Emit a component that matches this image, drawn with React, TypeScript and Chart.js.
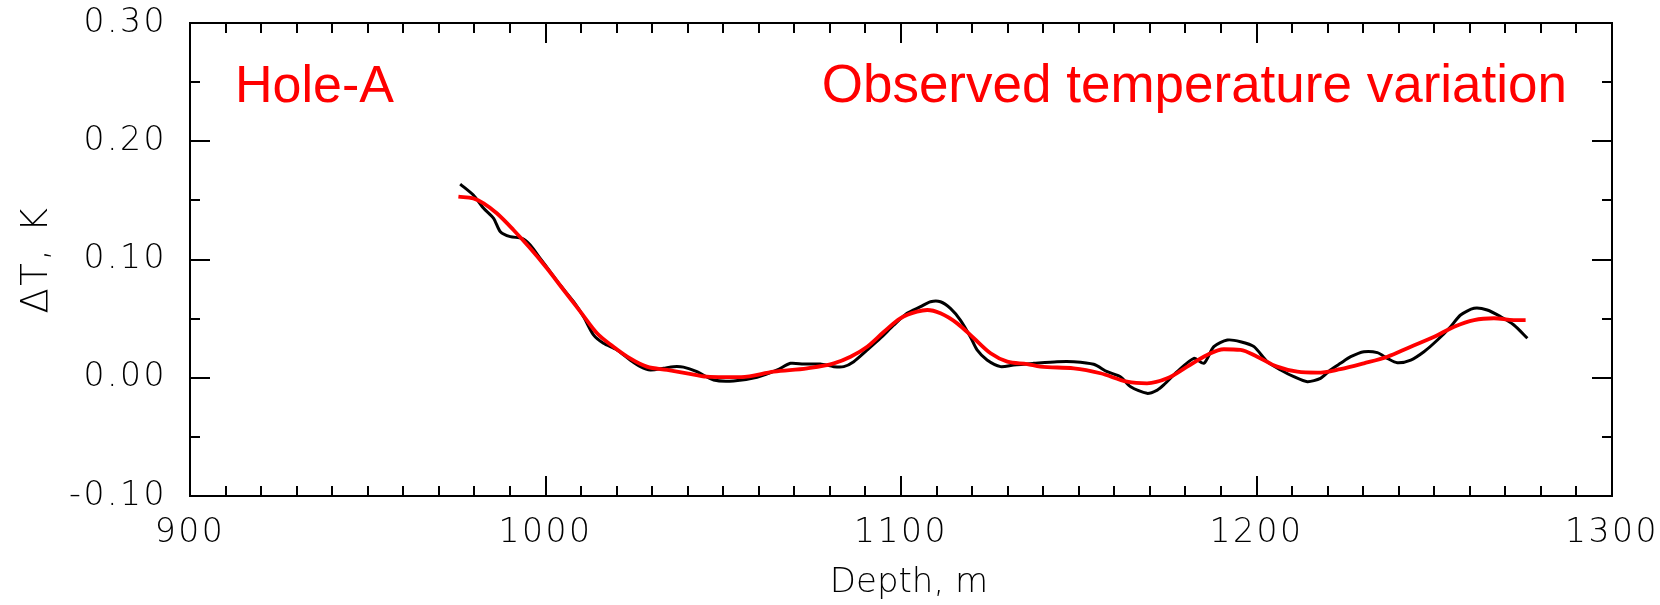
import React, { useEffect, useRef } from 'react';
import { Chart, registerables } from 'chart.js';

Chart.register(...registerables);

// Observed (black, noisy) temperature variation
const observedDepth = [
  976.0, 979.7, 982.6, 985.4, 987.3, 990.1, 993.4, 995.7, 998.5, 1001.3,
  1004.1, 1007.9, 1010.7, 1013.5, 1016.3, 1020.1, 1023.8, 1026.7, 1029.5, 1033.2,
  1036.0, 1038.8, 1042.6, 1047.3, 1052.9, 1059.5, 1065.2, 1068.9, 1072.6, 1077.3,
  1081.1, 1083.9, 1086.7, 1090.5, 1094.2, 1098.0, 1101.7, 1105.5, 1108.3, 1111.1,
  1113.9, 1116.7, 1119.5, 1121.4, 1124.2, 1128.0, 1131.7, 1137.4, 1143.9, 1148.6,
  1154.2, 1158.0, 1161.7, 1164.6, 1169.2, 1172.1, 1173.9, 1177.7, 1182.4, 1185.2,
  1188.0, 1191.8, 1195.5, 1199.3, 1203.0, 1206.8, 1210.5, 1214.3, 1218.0, 1220.8,
  1223.6, 1226.5, 1230.2, 1234.0, 1236.8, 1239.6, 1243.4, 1247.1, 1250.9, 1254.6,
  1257.4, 1261.2, 1264.9, 1268.7, 1272.4, 1276.2,
];
const observedDT = [
  0.1638, 0.1545, 0.1433, 0.1348, 0.1235, 0.1193, 0.1179, 0.1123, 0.101, 0.0897,
  0.0784, 0.0643, 0.0516, 0.0362, 0.0291, 0.0235, 0.015, 0.0094, 0.0066, 0.008,
  0.0094, 0.009, 0.0051, -0.0019, -0.0027, 0.0004, 0.0066, 0.0122, 0.0116, 0.0116,
  0.0094, 0.0094, 0.0136, 0.0235, 0.0334, 0.0446, 0.0545, 0.0601, 0.0643, 0.0643,
  0.0587, 0.0488, 0.0347, 0.0235, 0.015, 0.0094, 0.0108, 0.0122, 0.0136, 0.0136,
  0.0114, 0.0051, 0.0009, -0.0076, -0.0132, -0.0104, -0.0061, 0.0051, 0.0164, 0.0122,
  0.0263, 0.0319, 0.0305, 0.0263, 0.0136, 0.0066, 0.0009, -0.0033, -0.0005, 0.0066,
  0.0122, 0.0178, 0.022, 0.0212, 0.0164, 0.0127, 0.015, 0.022, 0.0319, 0.0432,
  0.0531, 0.0587, 0.0573, 0.0516, 0.0446, 0.0334,
];

// Smooth (red) curve
const fitDepth = [
  975.5, 979.7, 982.6, 986.3, 991.0, 995.7, 1000.4, 1005.1, 1009.8, 1014.5,
  1019.1, 1023.8, 1028.5, 1034.2, 1039.8, 1045.4, 1050.0, 1055.0, 1064.2, 1073.6,
  1081.1, 1085.8, 1090.5, 1095.2, 1099.8, 1104.5, 1107.4, 1111.1, 1115.8, 1120.5,
  1125.2, 1129.9, 1135.5, 1139.2, 1148.6, 1156.1, 1163.6, 1169.2, 1174.9, 1180.5,
  1186.1, 1190.8, 1195.5, 1200.2, 1205.8, 1211.5, 1217.1, 1223.6, 1230.2, 1236.8,
  1243.4, 1250.0, 1255.6, 1261.2, 1266.8, 1272.4, 1275.7,
];
const fitDT = [
  0.1531, 0.1517, 0.1475, 0.1391, 0.125, 0.1095, 0.0926, 0.0742, 0.0559, 0.0376,
  0.0263, 0.0164, 0.0094, 0.0066, 0.0038, 0.0009, 0.0005, 0.0005, 0.0051, 0.008,
  0.0122, 0.0178, 0.0263, 0.0389, 0.0503, 0.0559, 0.0573, 0.0545, 0.046, 0.0334,
  0.0207, 0.0136, 0.0116, 0.0094, 0.008, 0.0038, -0.0033, -0.0047, -0.0005, 0.0094,
  0.0193, 0.0241, 0.0235, 0.0178, 0.0094, 0.0051, 0.0043, 0.0073, 0.0122, 0.0178,
  0.0263, 0.0347, 0.0432, 0.0488, 0.0503, 0.0488, 0.0488,
];

const xMin = 900;
const xMax = 1300;
const xStep = 100;
const yMin = -0.1;
const yMax = 0.3;
const yStep = 0.1;

const holeLabel = 'Hole-A';
const curveLabel = 'Observed temperature variation';
const xTitle = 'Depth, m';
const yTitle = 'ΔT, K';

const tickFont = { family: '"DejaVu Sans"', size: 33, weight: '200' as any };

const frameTicksPlugin = {
  id: 'frameTicks',
  beforeDraw(chart: any) {
    // wider glyph spacing, like the reference's axis lettering
    (chart.ctx as any).letterSpacing = '2.5px';
  },
  afterDatasetsDraw(chart: any) {
    const { ctx, chartArea: a, scales } = chart;
    const x = scales.x;
    const y = scales.y;
    ctx.save();
    ctx.strokeStyle = '#000';
    ctx.lineWidth = 2;
    ctx.beginPath();
    for (let i = 0; i <= 40; i++) {
      const d = xMin + i * 10;
      const px = Math.round(x.getPixelForValue(d));
      const len = i % 10 === 0 ? 20 : 10;
      ctx.moveTo(px, a.bottom);
      ctx.lineTo(px, a.bottom - len);
      ctx.moveTo(px, a.top);
      ctx.lineTo(px, a.top + len);
    }
    for (let i = -2; i <= 6; i++) {
      const v = i * 0.05;
      const py = Math.round(y.getPixelForValue(v));
      const len = i % 2 === 0 ? 20 : 10;
      ctx.moveTo(a.left, py);
      ctx.lineTo(a.left + len, py);
      ctx.moveTo(a.right, py);
      ctx.lineTo(a.right - len, py);
    }
    ctx.stroke();
    ctx.strokeRect(a.left, a.top, a.right - a.left, a.bottom - a.top);
    ctx.restore();
  },
  afterDraw(chart: any) {
    const { ctx, chartArea: a } = chart;
    ctx.save();
    (ctx as any).letterSpacing = '0px';
    // x-axis title
    ctx.fillStyle = '#000';
    ctx.textAlign = 'center';
    ctx.textBaseline = 'middle';
    ctx.font = '200 34px "DejaVu Sans"';
    ctx.fillText(xTitle, (a.left + a.right) / 2 + 8, 583);
    // annotations
    ctx.fillStyle = '#ff0000';
    ctx.textBaseline = 'alphabetic';
    ctx.textAlign = 'left';
    ctx.font = '52px "Liberation Sans", Arial, sans-serif';
    ctx.fillText(holeLabel, a.left + 45, a.top + 79);
    ctx.textAlign = 'right';
    ctx.font = '53px "Liberation Sans", Arial, sans-serif';
    ctx.fillText(curveLabel, a.right - 45, a.top + 79);
    ctx.restore();
  },
};

export default function App() {
  const ref = useRef<HTMLCanvasElement | null>(null);

  useEffect(() => {
    if (!ref.current) return;
    const chart = new Chart(ref.current, {
      type: 'line',
      data: {
        datasets: [
          {
            label: 'Smoothed',
            data: fitDepth.map((d, i) => ({ x: d, y: fitDT[i] })),
            borderColor: '#ff0000',
            borderWidth: 3.8,
            pointRadius: 0,
            cubicInterpolationMode: 'monotone',
            fill: false,
          },
          {
            label: 'Observed',
            data: observedDepth.map((d, i) => ({ x: d, y: observedDT[i] })),
            borderColor: '#000000',
            borderWidth: 3,
            pointRadius: 0,
            tension: 0.25,
            fill: false,
          },
        ],
      },
      options: {
        animation: false,
        responsive: false,
        layout: { padding: { top: 23, right: 48, left: 0, bottom: 0 } },
        plugins: {
          legend: { display: false },
          tooltip: { enabled: false },
        },
        scales: {
          x: {
            type: 'linear',
            min: xMin,
            max: xMax,
            grid: { display: false, drawTicks: false },
            border: { display: false },
            ticks: {
              stepSize: xStep,
              font: tickFont,
              color: '#000',
              padding: 18,
              maxRotation: 0,
              callback: (v: any) => String(v),
            },
            title: { display: false, text: xTitle },
            afterFit: (s: any) => {
              s.height = 109;
              s.paddingLeft = 0;
              s.paddingRight = 0;
            },
          },
          y: {
            type: 'linear',
            min: yMin,
            max: yMax,
            grid: { display: false, drawTicks: false },
            border: { display: false },
            ticks: {
              stepSize: yStep,
              font: tickFont,
              color: '#000',
              padding: 23,
              callback: (v: any) => Number(v).toFixed(2),
            },
            title: {
              display: true,
              text: yTitle,
              font: { ...tickFont, size: 37 },
              color: '#000',
              padding: { top: 15, bottom: 0 },
            },
            afterFit: (s: any) => {
              s.width = 190;
              s.paddingTop = 0;
              s.paddingBottom = 0;
            },
          },
        },
      },
      plugins: [frameTicksPlugin],
    });
    return () => chart.destroy();
  }, []);

  return (
    <div style={{ position: 'fixed', left: 0, top: 0, width: 1660, height: 605, background: '#fff' }}>
      <canvas ref={ref} width={1660} height={605} style={{ display: 'block' }} />
    </div>
  );
}
